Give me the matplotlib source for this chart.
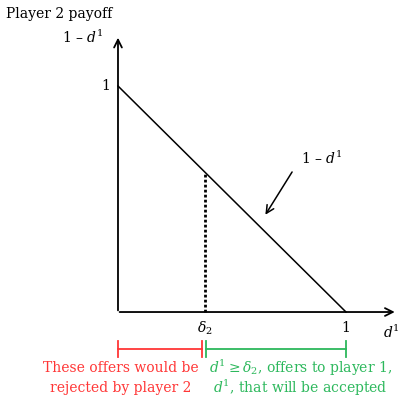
import matplotlib.pyplot as plt

# payoff line for player 2: 1 - d1
d1 = [0.0, 1.0]
payoff2 = [1.0, 0.0]
delta2 = 0.38

tick_labels = ['$\\delta_2$', '1']
red_lines = ['These offers would be', 'rejected by player 2']
green_lines = ['$d^1$$\\geq$$\\delta_2$, offers to player 1,', '$d^1$, that will be accepted']

red = '#ff3636'
green = '#2cb85c'

plt.rcParams['font.family'] = 'DejaVu Serif'
plt.rcParams['mathtext.fontset'] = 'dejavuserif'

fig = plt.figure(figsize=(4.03, 3.97), dpi=100)
ax = fig.add_axes([0, 0, 1, 1])
ax.set_xlim(-0.5175, 1.25)
ax.set_ylim(-0.376, 1.3805)
ax.axis('off')

# axes with arrow heads
ax.annotate('', xy=(0, 1.226), xytext=(0, -0.005),
            arrowprops=dict(arrowstyle='->', lw=1.3, color='black', mutation_scale=14))
ax.annotate('', xy=(1.226, 0), xytext=(-0.005, 0),
            arrowprops=dict(arrowstyle='->', lw=1.3, color='black', mutation_scale=14))

ax.plot(d1, payoff2, color='black', lw=1.1)
ax.plot([delta2, delta2], [0, 1 - delta2], color='black', lw=2, linestyle=(0, (1, 0.8)))

fs = 10
ax.text(-0.49, 1.32, 'Player 2 payoff', fontsize=fs, ha='left', va='center')
ax.text(-0.066, 1.217, '1 – $d^1$', fontsize=fs, ha='right', va='center')
ax.text(-0.035, 1.0, '1', fontsize=fs, ha='right', va='center')
ax.text(delta2, -0.07, tick_labels[0], fontsize=fs, ha='center', va='center')
ax.text(1.0, -0.07, tick_labels[1], fontsize=fs, ha='center', va='center')
ax.text(1.2, -0.09, '$d^1$', fontsize=fs, ha='center', va='center')

# label arrow for the line
ax.annotate('', xy=(0.64, 0.42), xytext=(0.77, 0.63),
            arrowprops=dict(arrowstyle='->', lw=1.1, color='black', mutation_scale=14))
ax.text(0.895, 0.68, '1 – $d^1$', fontsize=fs, ha='center', va='center')

# brackets for rejected / accepted offers
yb = -0.164
h = 0.035
ax.plot([0, delta2 - 0.01], [yb, yb], color=red, lw=1.3)
ax.plot([0, 0], [yb - h, yb + h], color=red, lw=1.3)
ax.plot([delta2 - 0.01, delta2 - 0.01], [yb - h, yb + h], color=red, lw=1.3)
ax.plot([delta2 + 0.008, 1.0], [yb, yb], color=green, lw=1.3)
ax.plot([delta2 + 0.008, delta2 + 0.008], [yb - h, yb + h], color=green, lw=1.3)
ax.plot([1.0, 1.0], [yb - h, yb + h], color=green, lw=1.3)

for line, y in zip(red_lines, [-0.248, -0.336]):
    ax.text(0.013, y, line, fontsize=fs, color=red, ha='center', va='center')
for line, y in zip(green_lines, [-0.248, -0.336]):
    ax.text(0.80, y, line, fontsize=fs, color=green, ha='center', va='center')

fig.savefig('out.png', dpi=100)
